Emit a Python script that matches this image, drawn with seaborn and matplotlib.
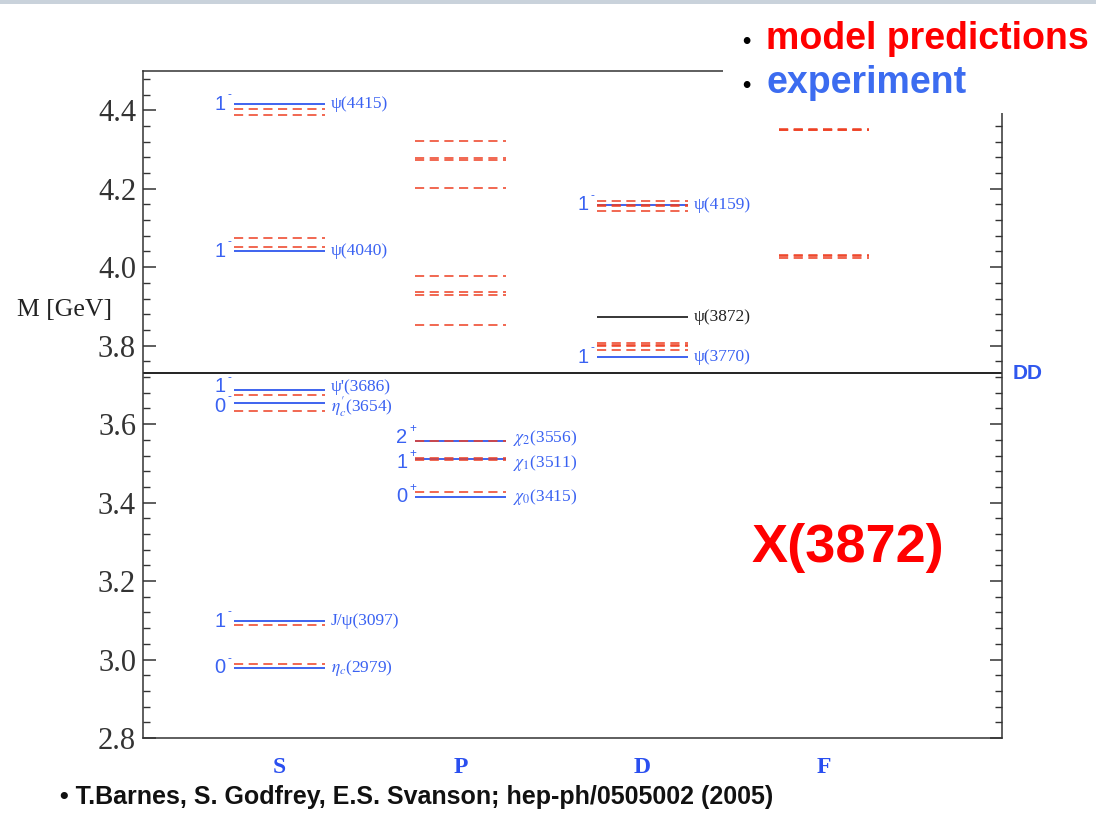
import matplotlib
matplotlib.use("Agg")
import matplotlib.pyplot as plt
from matplotlib.patches import Rectangle
from matplotlib.ticker import MultipleLocator, FormatStrFormatter
from matplotlib.transforms import blended_transform_factory, offset_copy
import pandas as pd
import seaborn as sns

# ---------------- data ----------------
waves = ["S", "P", "D", "F"]

# potential-model predictions (GeV) per orbital wave
model_S = [4.402, 4.388, 4.075, 4.052, 3.675, 3.634, 3.088, 2.988]
model_P = [4.321, 4.279, 4.273, 4.202, 3.977, 3.936, 3.929, 3.853,
           3.557, 3.514, 3.508, 3.426]
model_D = [4.168, 4.158, 4.157, 4.142, 3.808, 3.801, 3.799, 3.788]
model_F = [4.353, 4.350, 4.349, 4.031, 4.029, 4.023]

# observed charmonium states
exp_S_mass = [4.415, 4.040, 3.686, 3.654, 3.097, 2.979]
exp_S_name = ["ψ(4415)", "ψ(4040)", "ψ'(3686)", r"$\eta^{\prime}_{c}$(3654)",
              "J/ψ(3097)", r"$\eta_{c}$(2979)"]
exp_S_jpc = ["1-", "1-", "1-", "0-", "1-", "0-"]

exp_P_mass = [3.556, 3.511, 3.415]
exp_P_name = [r"$\chi_{2}$(3556)", r"$\chi_{1}$(3511)", r"$\chi_{0}$(3415)"]
exp_P_jpc = ["2+", "1+", "0+"]

exp_D_mass = [4.159, 3.770]
exp_D_name = ["ψ(4159)", "ψ(3770)"]
exp_D_jpc = ["1-", "1-"]

# the unexpected narrow state
x_mass = 3.872
x_name = "ψ(3872)"

dd_threshold = 3.7296

# ---------------- style ----------------
sns.set_theme(style="ticks")
plt.rcParams["font.family"] = ["Liberation Serif", "DejaVu Serif"]
plt.rcParams["mathtext.fontset"] = "stix"

RED = "#ee3f22"
BLUE = "#2f57ee"
LBLUE = "#3a62f2"
HALF = 0.25

fig = plt.figure(figsize=(10.96, 8.15), dpi=100)
ax = fig.add_axes([143 / 1096, 77 / 815, 859 / 1096, 667 / 815])
ax.set_xlim(0.25, 4.98)
ax.set_ylim(2.8, 4.5)

col = {w: i + 1 for i, w in enumerate(waves)}

model = pd.DataFrame({
    "wave": (["S"] * len(model_S) + ["P"] * len(model_P)
             + ["D"] * len(model_D) + ["F"] * len(model_F)),
    "mass": model_S + model_P + model_D + model_F,
})
model["x"] = model["wave"].map(col)

observed = pd.DataFrame({
    "wave": ["S"] * len(exp_S_mass) + ["P"] * len(exp_P_mass) + ["D"] * len(exp_D_mass),
    "mass": exp_S_mass + exp_P_mass + exp_D_mass,
    "name": exp_S_name + exp_P_name + exp_D_name,
    "jpc": exp_S_jpc + exp_P_jpc + exp_D_jpc,
})
observed["x"] = observed["wave"].map(col)


def label_nudge(df, gap=0.05, step=0.009):
    """Spread labels of closely spaced levels within one column."""
    shift = []
    for _, r in df.iterrows():
        others = df[(df["wave"] == r["wave"]) & (df.index != r.name)]["mass"]
        s = 0.0
        if ((others < r["mass"]) & (r["mass"] - others < gap)).any():
            s += step
        if ((others > r["mass"]) & (others - r["mass"] < gap)).any():
            s -= step
        shift.append(s)
    return shift


observed["ylab"] = observed["mass"] + pd.Series(label_nudge(observed), index=observed.index)

sup_tr = offset_copy(ax.transData, fig=fig, x=1.5, y=6.5, units="points")

# observed levels (solid blue) with names and J^PC
for _, r in observed.iterrows():
    ax.hlines(r["mass"], r["x"] - HALF, r["x"] + HALF, color=BLUE, lw=1.3, zorder=2)
    ax.text(r["x"] + HALF + 0.035, r["ylab"], r["name"], color=LBLUE,
            fontsize=12.5, va="center", ha="left")
    j, p = r["jpc"][0], r["jpc"][1]
    xl = r["x"] - HALF - 0.045
    ax.text(xl, r["ylab"], j, color=LBLUE, fontsize=14.5, va="center", ha="right",
            family="Liberation Sans")
    ax.text(xl, r["ylab"], "-" if p == "-" else "+", color=LBLUE, fontsize=8.5,
            va="center", ha="left", family="Liberation Sans", transform=sup_tr)

# X(3872) drawn in black
ax.hlines(x_mass, col["D"] - HALF, col["D"] + HALF, color="black", lw=1.1, zorder=2)
ax.text(col["D"] + HALF + 0.035, x_mass, x_name, color="#222222", fontsize=12.5,
        va="center", ha="left")

# model predictions (dashed red)
for _, r in model.iterrows():
    ax.hlines(r["mass"], r["x"] - HALF, r["x"] + HALF, color=RED, lw=1.1,
              linestyles=(0, (6.0, 3.6)), zorder=3)

# open-charm threshold
ax.axhline(dd_threshold, color="#111111", lw=1.3, zorder=1)
ax.text(1.012, dd_threshold, "DD", transform=blended_transform_factory(ax.transAxes, ax.transData),
        color=BLUE, fontsize=15, fontweight="bold", family="Liberation Sans",
        va="center", ha="left")

# axes formatting
ax.yaxis.set_major_locator(MultipleLocator(0.2))
ax.yaxis.set_minor_locator(MultipleLocator(0.04))
ax.yaxis.set_major_formatter(FormatStrFormatter("%.1f"))
ax.tick_params(axis="y", which="major", direction="in", length=9, width=1.1,
               left=True, right=True, labelsize=22, colors="#333333", pad=5)
ax.tick_params(axis="y", which="minor", direction="in", length=5, width=1.0,
               left=True, right=True, colors="#333333")
ax.set_xticks(range(1, len(waves) + 1))
ax.set_xticklabels(waves)
ax.tick_params(axis="x", length=0, pad=14)
for lab in ax.get_xticklabels():
    lab.set_color("#2a4ff0")
    lab.set_fontweight("bold")
    lab.set_fontsize(17)
for lab in ax.get_yticklabels():
    lab.set_color("#333333")
for s in ax.spines.values():
    s.set_visible(True)
    s.set_linewidth(1.1)
    s.set_color("#333333")

ax.text(-0.147, 3.89, "M [GeV]", transform=blended_transform_factory(ax.transAxes, ax.transData),
        fontsize=18.5, color="#222222", va="center", ha="left")

# slide annotations
fig.patches.append(Rectangle((723 / 1096, (815 - 113) / 815), 1 - 723 / 1096, 113 / 815,
                             transform=fig.transFigure, facecolor="white",
                             edgecolor="none", zorder=5))
fig.patches.append(Rectangle((0, 1 - 4 / 815), 1, 4 / 815, transform=fig.transFigure,
                             facecolor="#c9d2db", edgecolor="none", zorder=5))

sans_bold = dict(family="Liberation Sans", fontweight="bold", zorder=6)
fig.text(742 / 1096, 1 - 41 / 815, "•", color="black", fontsize=17, va="center", ha="left", **sans_bold)
fig.text(766 / 1096, 1 - 39 / 815, "model predictions", color="#ff0000", fontsize=27,
         va="center", ha="left", **sans_bold)
fig.text(742 / 1096, 1 - 85 / 815, "•", color="black", fontsize=17, va="center", ha="left", **sans_bold)
fig.text(766 / 1096, 1 - 83 / 815, "experiment", color="#3c6cf0", fontsize=27,
         va="center", ha="left", **sans_bold)

fig.text(848 / 1096, 1 - 548 / 815, "X(3872)", color="#ff0000", fontsize=39,
         va="center", ha="center", **sans_bold)

fig.text(60 / 1096, 1 - 797 / 815, "• T.Barnes, S. Godfrey, E.S. Svanson; hep-ph/0505002 (2005)",
         color="#111111", fontsize=18, va="center", ha="left", **sans_bold)

fig.savefig("out.png", dpi=100, facecolor="white")
